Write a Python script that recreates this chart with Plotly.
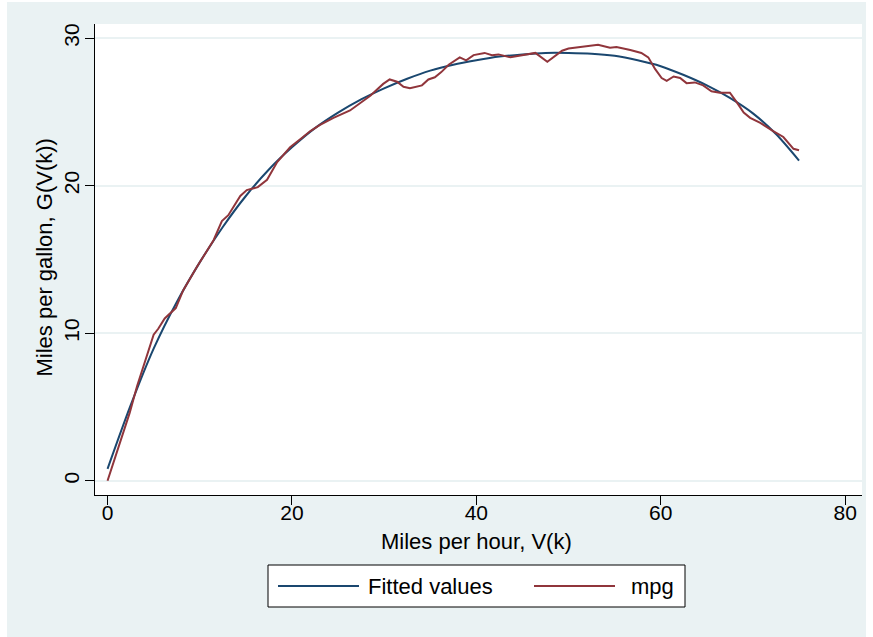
import plotly.graph_objects as go

# ---- data ----
speed_fit = [0, 2.5, 5, 7.5, 10, 12.5, 15, 17.5, 20, 22.5, 25, 27.5, 30, 32.5, 35, 37.5, 40,
             42.5, 45, 47.5, 50, 52.5, 55, 57.5, 60, 62.5, 65, 67.5, 70, 72.5, 75]
fitted = [0.8, 5.1, 8.95, 12.1, 14.8, 17.2, 19.3, 21.1, 22.6, 23.9, 24.95, 25.85, 26.6, 27.25,
          27.8, 28.2, 28.5, 28.75, 28.9, 29.0, 29.0, 28.95, 28.8, 28.5, 28.1, 27.5, 26.8,
          25.95, 24.9, 23.5, 21.7]

speed_obs = [0, 2.4, 3.2, 4.1, 5.0, 5.5, 6.2, 7.4, 8.2, 9.7, 11.5, 12.4, 13.1, 14.4, 15.1, 16.3,
             17.3, 18.4, 19.8, 21.0, 22.0, 23.0, 24.5, 26.3, 28.5, 29.9, 30.6, 31.4, 32.1, 32.8,
             34.1, 34.8, 35.5, 36.2, 37.0, 38.2, 38.9, 39.7, 40.9, 41.7, 42.4, 43.7, 46.4, 47.7,
             48.35, 49.3, 50.0, 51.6, 53.2, 54.5, 55.2, 56.7, 57.9, 58.65, 59.4, 60.1, 60.65,
             61.4, 62.1, 62.8, 63.7, 64.6, 65.5, 66.4, 67.5, 68.2, 69.0, 69.7, 70.8, 72.2, 73.3,
             74.4, 75.0]
mpg = [0.0, 4.6, 6.4, 8.2, 9.9, 10.3, 11.0, 11.7, 12.9, 14.5, 16.3, 17.6, 18.0, 19.3, 19.7, 19.9,
       20.4, 21.6, 22.6, 23.2, 23.7, 24.1, 24.6, 25.1, 26.1, 26.9, 27.2, 27.05, 26.7, 26.6,
       26.8, 27.2, 27.35, 27.7, 28.2, 28.7, 28.5, 28.85, 29.0, 28.85, 28.9, 28.7, 29.0, 28.4,
       28.7, 29.15, 29.3, 29.45, 29.55, 29.35, 29.4, 29.2, 29.0, 28.7, 27.9, 27.3, 27.1,
       27.4, 27.3, 26.95, 27.0, 26.8, 26.4, 26.3, 26.3, 25.7, 24.95, 24.6, 24.25, 23.7, 23.3,
       22.5, 22.4]

x_ticks = [0, 20, 40, 60, 80]
y_ticks = [0, 10, 20, 30]
series_names = ["Fitted values", "mpg"]
x_title = "Miles per hour, V(k)"
y_title = "Miles per gallon, G(V(k))"

# ---- geometry ----
W, H = 873, 637
L, R, T, B = 95, 11, 24, 142
pw, ph = W - L - R, H - T - B


def px(x):
    return (x - L) / pw


def py(y):
    return 1 - (y - T) / ph


BLUE = "#1a476f"
RED = "#90353b"
BG = "#eaf2f3"
FONT = "Liberation Sans, Arial, Helvetica, sans-serif"
FS = 21

fig = go.Figure()
fig.add_trace(go.Scatter(x=speed_fit, y=fitted, mode="lines", name=series_names[0],
                         line=dict(color=BLUE, width=2, shape="spline", smoothing=0.8)))
fig.add_trace(go.Scatter(x=speed_obs, y=mpg, mode="lines", name=series_names[1],
                         line=dict(color=RED, width=2)))

shapes = []
# white outer strips
for (x0, x1, y0, y1) in [(0, 7, 0, H), (866, W, 0, H), (0, W, 0, 2)]:
    shapes.append(dict(type="rect", xref="paper", yref="paper", x0=px(x0), x1=px(x1),
                       y0=py(y1), y1=py(y0), fillcolor="white", line=dict(width=0), layer="below"))
# legend box
shapes.append(dict(type="rect", xref="paper", yref="paper", x0=px(268), x1=px(685),
                   y0=py(607), y1=py(565), fillcolor="white", line=dict(color="black", width=1)))
shapes.append(dict(type="line", xref="paper", yref="paper", x0=px(278), x1=px(359),
                   y0=py(586), y1=py(586), line=dict(color=BLUE, width=2)))
shapes.append(dict(type="line", xref="paper", yref="paper", x0=px(534), x1=px(615),
                   y0=py(586), y1=py(586), line=dict(color=RED, width=2)))

tfont = dict(size=22, color="black", family=FONT)
annotations = [
    dict(text=series_names[0], xref="paper", yref="paper", x=px(366), y=py(586), xanchor="left",
         yanchor="middle", showarrow=False, font=tfont),
    dict(text=series_names[1], xref="paper", yref="paper", x=px(629), y=py(586), xanchor="left",
         yanchor="middle", showarrow=False, font=tfont),
    dict(text=x_title, xref="paper", yref="paper", x=px(476), y=py(541.5), xanchor="center",
         yanchor="middle", showarrow=False, font=tfont),
    dict(text=y_title, xref="paper", yref="paper", x=px(44), y=py(257.5), xanchor="center",
         yanchor="middle", showarrow=False, textangle=-90, font=tfont),
]

fig.update_layout(
    width=W, height=H,
    margin=dict(l=L, r=R, t=T, b=B, autoexpand=False),
    paper_bgcolor=BG, plot_bgcolor="white",
    font=dict(family=FONT, size=FS, color="black"),
    showlegend=False,
    shapes=shapes, annotations=annotations,
    xaxis=dict(range=[-1.36, 81.83], tickvals=x_ticks, showgrid=False, zeroline=False,
               showline=True, linecolor="black", linewidth=1, ticks="outside", ticklen=9,
               tickcolor="black", tickwidth=1, tickfont=dict(size=FS), automargin=False,
               ticklabelstandoff=-10),
    yaxis=dict(range=[-0.97, 30.96], tickvals=y_ticks, showgrid=True, gridcolor=BG, gridwidth=1.5,
               zeroline=False, showline=True, linecolor="black", linewidth=1, ticks="outside",
               ticklen=9, tickcolor="black", tickwidth=1, tickangle=-90, tickfont=dict(size=FS),
               automargin=False, ticklabelstandoff=-2),
)

fig.write_html("out.html", config={"displayModeBar": False},
               post_script="document.body.style.margin='0px';document.body.style.padding='0px';")
